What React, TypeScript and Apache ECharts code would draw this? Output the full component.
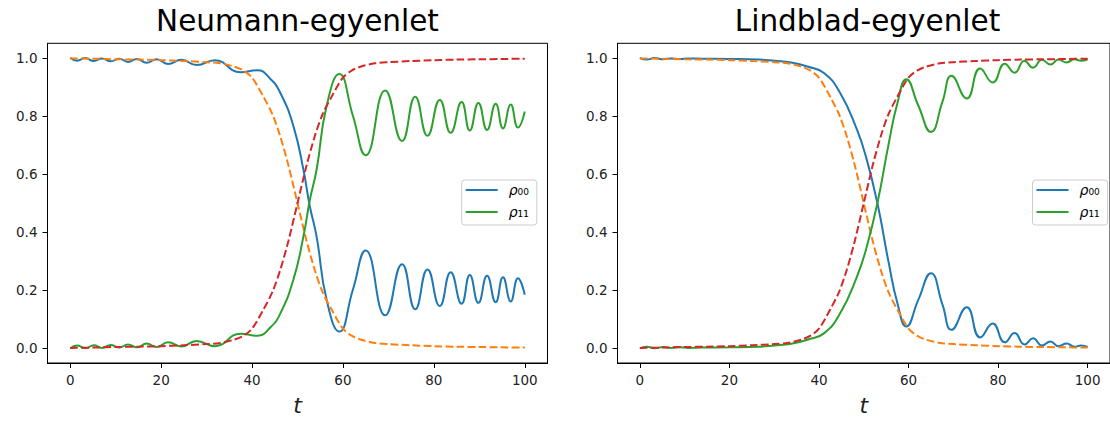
import React, { useEffect, useRef } from "react";
import * as echarts from "echarts";

// ---------- data ----------
const X_TICKS = [0, 20, 40, 60, 80, 100];
const Y_TICKS = [0, 0.2, 0.4, 0.6, 0.8, 1.0];
const TITLES = ["Neumann-egyenlet", "Lindblad-egyenlet"];

// Neumann (left) panel, solid curves
const T_LEFT = [0, 1.5, 3.3, 5.2, 7.0, 8.9, 10.8, 12.7, 14.7, 16.8, 19.0, 21.5, 24.5, 27.8, 31.8, 37.5, 41.2, 44.0, 46.2, 49.1, 51.3, 52.7, 54.2, 56.4, 59.2, 62.2, 65.0, 69.3, 73.0, 75.9, 78.6, 81.3, 83.7, 86.1, 87.9, 89.8, 91.7, 93.6, 95.2, 96.9, 98.5, 100];
const RHO00_LEFT = [1.0, 0.99, 0.999, 0.989, 0.998, 0.988, 0.997, 0.986, 0.996, 0.983, 0.995, 0.979, 0.993, 0.975, 0.992, 0.95, 0.957, 0.928, 0.88, 0.765, 0.615, 0.49, 0.385, 0.168, 0.058, 0.203, 0.337, 0.114, 0.29, 0.135, 0.272, 0.146, 0.262, 0.154, 0.253, 0.157, 0.25, 0.159, 0.245, 0.162, 0.242, 0.185];
const RHO11_LEFT = [0.0, 0.01, 0.001, 0.011, 0.002, 0.012, 0.003, 0.014, 0.004, 0.017, 0.005, 0.021, 0.007, 0.026, 0.008, 0.051, 0.044, 0.072, 0.12, 0.237, 0.385, 0.51, 0.615, 0.834, 0.944, 0.8, 0.665, 0.888, 0.714, 0.866, 0.732, 0.855, 0.742, 0.848, 0.75, 0.845, 0.752, 0.842, 0.757, 0.839, 0.76, 0.815];

// Lindblad (right) panel, solid curves
const T_RIGHT = [0, 1.5, 3.3, 5.2, 7.0, 8.9, 10.8, 14, 20, 26.5, 30, 33.8, 37.4, 41.1, 44.7, 48.4, 50.6, 53.1, 55.6, 57.5, 59.5, 62.2, 65.0, 67.6, 69.6, 73.0, 76.0, 78.8, 81.5, 83.7, 85.9, 87.8, 89.8, 91.7, 93.5, 95.3, 97.1, 98.5, 100];
const RHO00_RIGHT = [1.0, 0.994, 0.999, 0.995, 0.998, 0.996, 0.998, 0.997, 0.996, 0.994, 0.99, 0.984, 0.97, 0.948, 0.88, 0.756, 0.654, 0.496, 0.293, 0.157, 0.076, 0.168, 0.259, 0.15, 0.064, 0.142, 0.038, 0.086, 0.021, 0.053, 0.0135, 0.035, 0.01, 0.024, 0.008, 0.017, 0.006, 0.01, 0.005];
const RHO11_RIGHT = [0.0, 0.006, 0.001, 0.005, 0.002, 0.004, 0.002, 0.003, 0.004, 0.006, 0.01, 0.016, 0.03, 0.052, 0.12, 0.244, 0.346, 0.504, 0.707, 0.843, 0.926, 0.835, 0.745, 0.85, 0.938, 0.86, 0.963, 0.915, 0.98, 0.949, 0.99, 0.966, 0.993, 0.977, 0.994, 0.984, 0.995, 0.99, 0.995];

// dashed (adiabatic) curves, identical in both panels
const T_DASH = [0, 5, 10, 15, 20, 25, 30, 33, 36, 38, 40, 42.5, 44.5, 46.2, 48, 50, 52, 53.8, 55.5, 57.5, 60, 62, 64, 67, 70, 75, 80, 85, 90, 95, 100];
const ADIAB_RED = [0.002, 0.003, 0.005, 0.006, 0.008, 0.011, 0.015, 0.019, 0.03, 0.043, 0.068, 0.134, 0.195, 0.27, 0.37, 0.5, 0.63, 0.73, 0.805, 0.866, 0.932, 0.957, 0.97, 0.981, 0.985, 0.989, 0.992, 0.994, 0.995, 0.996, 0.997];
const ADIAB_ORANGE = [0.998, 0.997, 0.995, 0.994, 0.992, 0.989, 0.985, 0.981, 0.97, 0.957, 0.932, 0.866, 0.805, 0.73, 0.63, 0.5, 0.37, 0.27, 0.195, 0.134, 0.068, 0.043, 0.03, 0.019, 0.015, 0.011, 0.008, 0.006, 0.005, 0.004, 0.003];

// ---------- styling ----------
const BLUE = "#1f77b4";
const ORANGE = "#ff7f0e";
const GREEN = "#2ca02c";
const RED = "#d62728";
const FONT = "DejaVu Sans";
const GRID_LEFTS = [47.5, 617.5];
const GRID_TOP = 43.3;
const GRID_W = 500;
const GRID_H = 325;

const zip = (t: number[], v: number[]) => t.map((x, i) => [x, v[i]]);

function xAxis(gridIndex: number) {
  return {
    type: "value",
    gridIndex,
    min: -5,
    max: 105,
    axisLine: { show: true, onZero: false, lineStyle: { color: "#000", width: 1 } },
    axisTick: { show: true, customValues: X_TICKS, length: 5, lineStyle: { color: "#000", width: 1 } },
    axisLabel: { show: true, customValues: X_TICKS, margin: 10, fontSize: 13.5, color: "#222", fontFamily: FONT },
    splitLine: { show: false },
    name: "t",
    nameLocation: "middle",
    nameGap: 31,
    nameTextStyle: { fontSize: 22, fontStyle: "italic", fontFamily: FONT, color: "#222" },
  };
}

function yAxis(gridIndex: number) {
  return {
    type: "value",
    gridIndex,
    min: -0.05,
    max: 1.05,
    axisLine: { show: true, onZero: false, lineStyle: { color: "#000", width: 1 } },
    axisTick: { show: true, customValues: Y_TICKS, length: 5, lineStyle: { color: "#000", width: 1 } },
    axisLabel: {
      show: true,
      customValues: Y_TICKS,
      margin: 10,
      fontSize: 13.5,
      color: "#222",
      fontFamily: FONT,
      formatter: (v: number) => v.toFixed(1),
    },
    splitLine: { show: false },
  };
}

function line(name: string, idx: number, data: number[][], color: string, dashed: boolean) {
  return {
    name,
    type: "line",
    xAxisIndex: idx,
    yAxisIndex: idx,
    data,
    smooth: dashed ? 0.3 : 0.5,
    symbol: "none",
    showSymbol: false,
    silent: true,
    lineStyle: { color, width: 2, type: dashed ? [7.7, 3.3] : "solid" },
    itemStyle: { color },
  };
}

function panel(idx: number, t: number[], r00: number[], r11: number[]) {
  return [
    line("rho00", idx, zip(t, r00), BLUE, false),
    line("adiab0", idx, zip(T_DASH, ADIAB_ORANGE), ORANGE, true),
    line("rho11", idx, zip(t, r11), GREEN, false),
    line("adiab1", idx, zip(T_DASH, ADIAB_RED), RED, true),
  ];
}

function legend(left: number) {
  return {
    left,
    top: 180,
    orient: "vertical",
    data: ["rho00", "rho11"],
    icon: "rect",
    itemWidth: 32,
    itemHeight: 2,
    itemGap: 8,
    padding: [3, 8, 6, 4],
    borderColor: "#cccccc",
    borderWidth: 1,
    borderRadius: 3,
    backgroundColor: "rgba(255,255,255,0.8)",
    selectedMode: false,
    formatter: (name: string) => (name === "rho00" ? "{p|ρ}{s|₀₀}" : "{p|ρ}{s|₁₁}"),
    textStyle: {
      rich: {
        p: { fontFamily: FONT, fontStyle: "italic", fontSize: 14, color: "#000", padding: [0, 0, 0, 6], lineHeight: 16 },
        s: { fontFamily: FONT, fontSize: 14, color: "#000", lineHeight: 16 },
      },
    },
  };
}

export default function App() {
  const ref = useRef<HTMLDivElement>(null);
  useEffect(() => {
    const chart = echarts.init(ref.current!, null, { renderer: "svg" });
    chart.setOption({
      animation: false,
      backgroundColor: "#fff",
      title: TITLES.map((text, i) => ({
        text,
        left: GRID_LEFTS[i] + GRID_W / 2,
        top: 6,
        padding: 0,
        textAlign: "center",
        textStyle: { fontFamily: FONT, fontSize: 29.5, fontWeight: "normal", color: "#000" },
      })),
      grid: GRID_LEFTS.map((left) => ({
        left,
        top: GRID_TOP,
        width: GRID_W,
        height: GRID_H,
        show: true,
        borderColor: "#000",
        borderWidth: 1,
        backgroundColor: "transparent",
        containLabel: false,
      })),
      xAxis: [xAxis(0), xAxis(1)],
      yAxis: [yAxis(0), yAxis(1)],
      legend: [legend(461.7), legend(1032.5)],
      series: [
        ...panel(0, T_LEFT, RHO00_LEFT, RHO11_LEFT),
        ...panel(1, T_RIGHT, RHO00_RIGHT, RHO11_RIGHT),
      ],
    });
    return () => chart.dispose();
  }, []);
  return (
    <div
      ref={ref}
      style={{ position: "absolute", left: 0, top: 0, width: 1110, height: 421, overflow: "hidden" }}
    />
  );
}
